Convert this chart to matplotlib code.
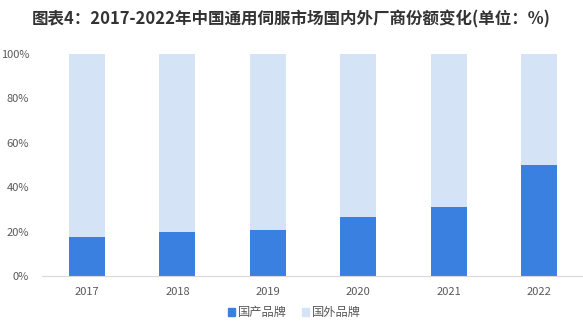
import matplotlib.pyplot as plt
from matplotlib.patches import Patch

plt.rcParams['font.family'] = ['Noto Sans CJK SC', 'DejaVu Sans']

years = ['2017', '2018', '2019', '2020', '2021', '2022']
domestic = [17.7, 20.0, 20.7, 26.7, 31.2, 50.0]
foreign = [100 - d for d in domestic]

dark_blue = '#3a80e0'
light_blue = '#d4e3f6'
text_grey = '#595959'

fig = plt.figure(figsize=(5.83, 3.30), dpi=100)
ax = fig.add_axes([0.0715, 0.1636, 0.931, 0.6727])

x = range(len(years))
ax.bar(x, domestic, width=0.4, color=dark_blue, label='国产品牌')
ax.bar(x, foreign, width=0.4, bottom=domestic, color=light_blue, label='国外品牌')

ax.set_xlim(-0.5, len(years) - 0.5)
ax.set_ylim(0, 100)
ax.set_yticks([0, 20, 40, 60, 80, 100])
ax.set_yticklabels([f'{v}%' for v in [0, 20, 40, 60, 80, 100]])
ax.set_xticks(list(x))
ax.set_xticklabels(years)
ax.tick_params(axis='both', length=0, labelsize=8, colors=text_grey)
ax.tick_params(axis='x', pad=8)
ax.tick_params(axis='y', pad=9)

for side in ('top', 'right', 'left'):
    ax.spines[side].set_visible(False)
ax.spines['bottom'].set_color('#d9d9d9')
ax.spines['bottom'].set_linewidth(0.8)

fig.text(0.5, 0.94, '图表4：2017-2022年中国通用伺服市场国内外厂商份额变化(单位：%)',
         ha='center', va='center', fontsize=11.9, fontweight='bold', color='#333333')

handles = [Patch(color=dark_blue, label='国产品牌'),
           Patch(color=light_blue, label='国外品牌')]
fig.legend(handles=handles, loc='center', bbox_to_anchor=(0.505, 0.052), ncol=2,
           frameon=False, fontsize=8.8, labelcolor=text_grey,
           handlelength=0.6, handleheight=0.6, handletextpad=0.25, columnspacing=1.2)

fig.savefig('out.png', dpi=100)
